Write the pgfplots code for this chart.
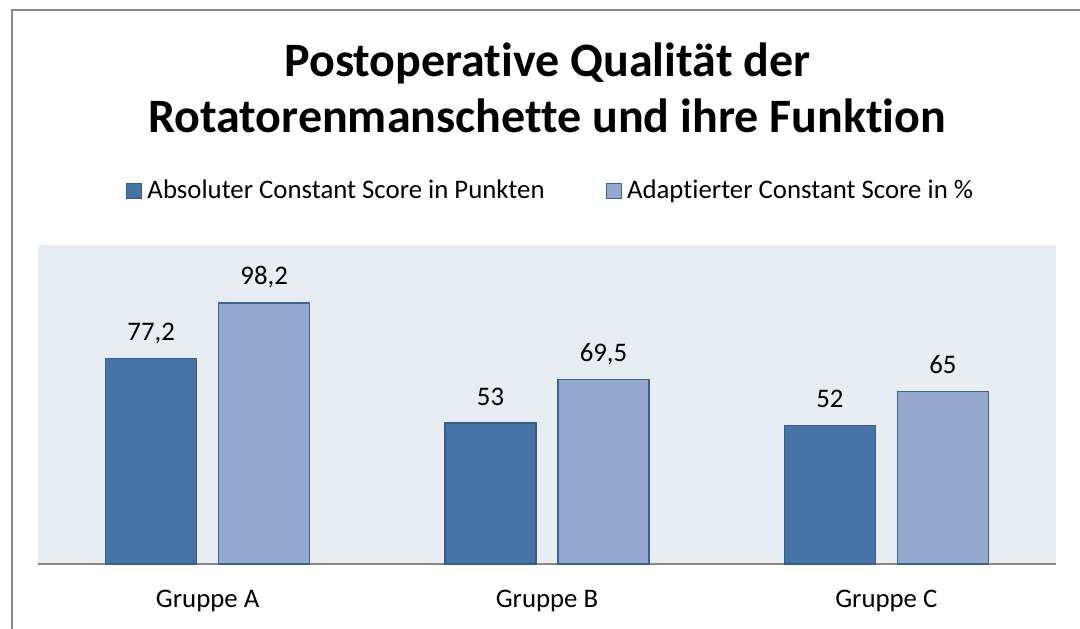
\documentclass[border=0pt]{standalone}
\usepackage{pgfplots}
\pgfplotsset{compat=1.18}
\usepackage{fontspec}
\setmainfont{Carlito}[Ligatures=NoCommon]
\definecolor{darkbar}{RGB}{70,114,166}
\definecolor{darkedge}{RGB}{56,93,138}
\definecolor{lightbar}{RGB}{149,169,207}
\definecolor{lightedge}{RGB}{64,98,145}
\definecolor{plotbg}{RGB}{232,236,243}
\definecolor{axisgray}{RGB}{137,137,137}
\definecolor{framegray}{RGB}{134,134,134}
\begin{document}
\begin{tikzpicture}
\useasboundingbox (0pt,0pt) rectangle (540pt,314pt);
\fill[white] (0pt,0pt) rectangle (540pt,314pt);
\draw[framegray, line width=1pt] (6pt,-20pt) rectangle (560pt,309pt);
\node[font=\fontsize{24}{29}\selectfont\bfseries, anchor=base] at (273.7pt,276pt) {Postoperative Qualität der};
\node[font=\fontsize{24}{29}\selectfont\bfseries, anchor=base] at (273.5pt,247.5pt) {Rotatorenmanschette und ihre Funktion};
\begin{axis}[
  at={(19pt,32pt)}, anchor=south west,
  scale only axis, width=509pt, height=159.5pt,
  xmin=-0.5, xmax=2.5, ymin=0, ymax=120,
  axis background/.style={fill=plotbg},
  axis x line*=bottom, axis y line=none,
  x axis line style={axisgray, line width=0.8pt, -},
  xtick=data, xticklabels={Gruppe A, Gruppe B, Gruppe C},
  major tick length=0pt, xtick style={draw=none},
  xticklabel style={anchor=base, yshift=-21.5pt, font=\fontsize{13.4}{16}\selectfont},
  ybar=11pt, bar width=45.5pt,
  /pgf/number format/assume math mode=true,
  /pgf/number format/use comma,
  nodes near coords,
  nodes near coords style={anchor=base, yshift=9pt, inner sep=0pt, font=\fontsize{13.4}{16}\selectfont, text=black},
  legend style={at={(0.505,1.169)}, anchor=center, draw=none, fill=none,
    font=\fontsize{13.4}{16}\selectfont,
    /tikz/every even column/.append style={column sep=28pt},
    nodes={inner sep=2.5pt}},
  legend columns=2,
  legend image code/.code={\draw[#1, line width=0.6pt] (0pt,-3.8pt) rectangle (7.6pt,3.8pt);},
]
\addplot[fill=darkbar, draw=darkedge, line width=0.7pt] coordinates {(0,77.2) (1,53) (2,52)};
\addplot[fill=lightbar, draw=lightedge, line width=0.7pt] coordinates {(0,98.2) (1,69.5) (2,65)};
\legend{Absoluter Constant Score in Punkten, Adaptierter Constant Score in \%}
\end{axis}
\end{tikzpicture}
\end{document}
